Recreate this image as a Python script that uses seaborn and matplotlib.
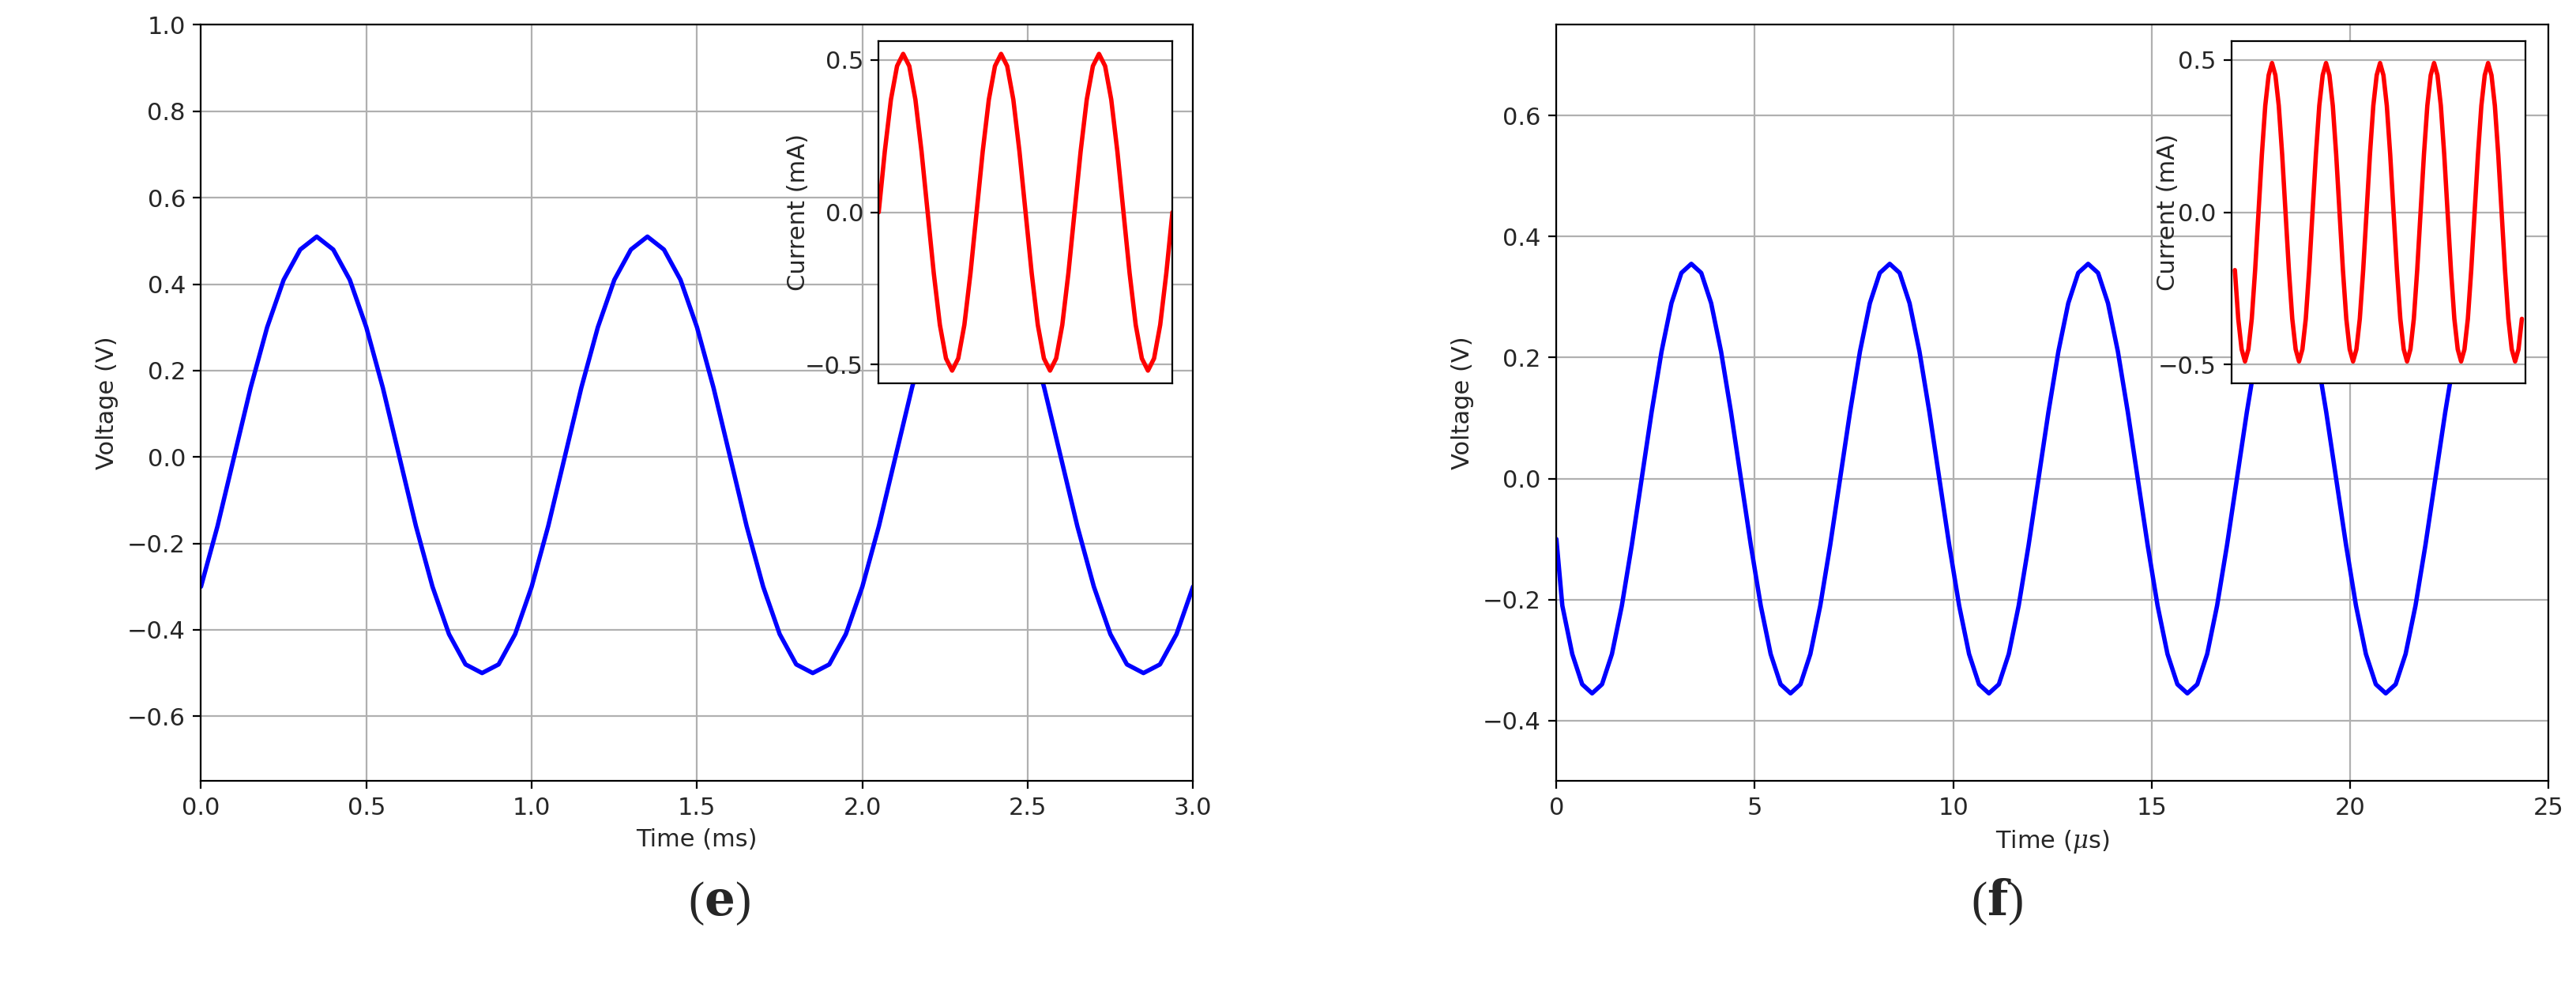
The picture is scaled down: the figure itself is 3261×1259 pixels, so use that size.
import numpy as np
import pandas as pd
import matplotlib
matplotlib.use("Agg")
import matplotlib.pyplot as plt
import seaborn as sns

# ---- data ----
left_period_v = [-0.30, -0.16, 0.00, 0.16, 0.30, 0.41, 0.48, 0.51, 0.48, 0.41,
                 0.30, 0.16, 0.00, -0.16, -0.30, -0.41, -0.48, -0.50, -0.48, -0.41]
left_time_ms = [round(0.05 * k, 2) for k in range(61)]
left_voltage = (left_period_v * 3) + [-0.30]

left_inset_period = [0.00, 0.20, 0.37, 0.48, 0.52, 0.48, 0.37, 0.20,
                     0.00, -0.20, -0.37, -0.48, -0.52, -0.48, -0.37, -0.20]
left_current = left_inset_period * 3 + [0.00]

right_period_v = [-0.21, -0.29, -0.34, -0.355, -0.34, -0.29, -0.21, -0.11, 0.00, 0.11,
                  0.21, 0.29, 0.34, 0.355, 0.34, 0.29, 0.21, 0.11, 0.00, -0.11]
right_time_us = [0.0] + [0.15 + 0.25 * k for k in range(97)]
right_voltage = [-0.10] + (right_period_v * 5)[:97]

right_inset_period = [0.00, 0.19, 0.35, 0.45, 0.49, 0.45, 0.35, 0.19,
                      0.00, -0.19, -0.35, -0.45, -0.49, -0.45, -0.35, -0.19]
right_current = (right_inset_period * 7)[9:9 + 86]

sns.set_style("ticks")
plt.rcParams['font.family'] = ['DejaVu Sans']
plt.rcParams['mathtext.fontset'] = 'dejavuserif'
FS = 11

fig = plt.figure(figsize=(16.31, 6.295), dpi=200)

def style(ax, xgrid=True):
    ax.grid(True, axis='y', color='#b0b0b0', linewidth=0.8)
    if xgrid:
        ax.grid(True, axis='x', color='#b0b0b0', linewidth=0.8)
    for s in ax.spines.values():
        s.set_color('black'); s.set_linewidth(0.8)
    ax.tick_params(labelsize=FS, direction='out', length=3.5, color='black')

# left main
ax1 = fig.add_axes([0.078, 0.215, 0.385, 0.76])
sns.lineplot(x=left_time_ms, y=left_voltage, ax=ax1, color='blue', linewidth=2)
ax1.set_xlim(0, 3.0); ax1.set_ylim(-0.75, 1.0)
ax1.set_xticks(np.arange(0, 3.01, 0.5)); ax1.set_yticks(np.arange(-0.6, 1.01, 0.2))
ax1.set_xlabel('Time (ms)', fontsize=FS); ax1.set_ylabel('Voltage (V)', fontsize=FS)
style(ax1)

ax1i = fig.add_axes([0.341, 0.615, 0.114, 0.344])
sns.lineplot(x=list(range(len(left_current))), y=left_current, ax=ax1i, color='red', linewidth=2)
ax1i.set_xlim(0, len(left_current) - 1); ax1i.set_ylim(-0.561, 0.563)
ax1i.set_xticks([])
ax1i.set_yticks([-0.5, 0.0, 0.5])
ax1i.set_ylabel('Current (mA)', fontsize=FS, labelpad=-2)
style(ax1i, xgrid=False)

# right main
ax2 = fig.add_axes([0.604, 0.215, 0.385, 0.76])
sns.lineplot(x=right_time_us, y=right_voltage, ax=ax2, color='blue', linewidth=2)
ax2.set_xlim(0, 25); ax2.set_ylim(-0.5, 0.75)
ax2.set_xticks(np.arange(0, 26, 5)); ax2.set_yticks(np.arange(-0.4, 0.61, 0.2))
ax2.set_xlabel(r'Time ($\mu$s)', fontsize=FS); ax2.set_ylabel('Voltage (V)', fontsize=FS)
style(ax2)

ax2i = fig.add_axes([0.866, 0.615, 0.114, 0.344])
sns.lineplot(x=list(range(len(right_current))), y=right_current, ax=ax2i, color='red', linewidth=2)
ax2i.set_xlim(-1, len(right_current)); ax2i.set_ylim(-0.561, 0.563)
ax2i.set_xticks([])
ax2i.set_yticks([-0.5, 0.0, 0.5])
ax2i.set_ylabel('Current (mA)', fontsize=FS, labelpad=-10)
style(ax2i, xgrid=False)

for x, l in [(0.279, 'e'), (0.775, 'f')]:
    fig.text(x, 0.08, r'($\mathbf{' + l + r'}$)', fontsize=22, ha='center',
             family=['Liberation Serif', 'DejaVu Serif'])

fig.savefig('out.png', dpi=200, facecolor='white')
